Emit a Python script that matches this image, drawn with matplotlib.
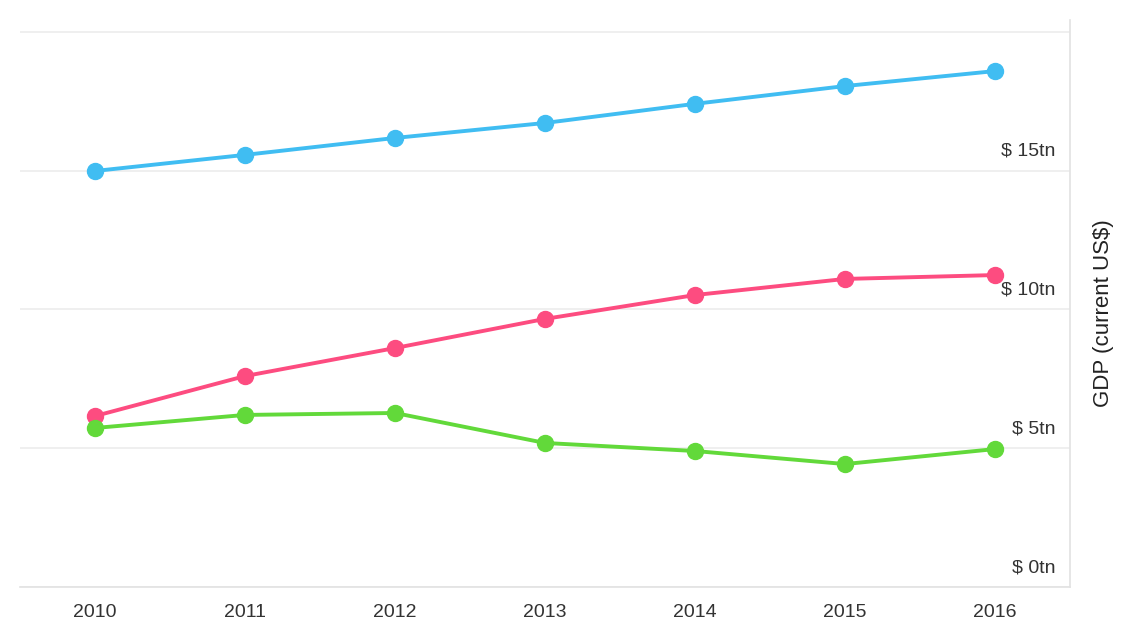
import matplotlib.pyplot as plt

plt.rcParams['font.family'] = ['Liberation Sans', 'DejaVu Sans']

years = [2010, 2011, 2012, 2013, 2014, 2015, 2016]
us_gdp = [14.99, 15.57, 16.18, 16.72, 17.41, 18.05, 18.59]
china_gdp = [6.16, 7.60, 8.61, 9.66, 10.52, 11.10, 11.24]
japan_gdp = [5.73, 6.20, 6.27, 5.19, 4.90, 4.43, 4.97]
y_ticks = [0, 5, 10, 15, 20]
y_labels = ["$ 0tn", "$ 5tn", "$ 10tn", "$ 15tn"]

series = [
    (us_gdp, "#40bdf2"),
    (china_gdp, "#fd4c80"),
    (japan_gdp, "#62d93a"),
]

fig = plt.figure(figsize=(11.36, 6.4), dpi=100)
ax = fig.add_axes([20 / 1136, 53 / 640, 1050 / 1136, 567 / 640])

for values, color in series:
    ax.plot(years, values, color=color, linewidth=2.8, marker="o",
            markersize=11.5, solid_capstyle="round", zorder=3)

ax.set_xlim(2009.5, 2016.5)
ax.set_ylim(0, 20.43)
ax.set_xticks(years)
ax.set_xticklabels([str(y) for y in years], fontsize=14, color="#333333")
ax.tick_params(axis="x", length=0, pad=12)
ax.set_yticks(y_ticks)
ax.set_yticklabels([])
ax.tick_params(axis="y", length=0)
ax.grid(axis="y", color="#ececec", linewidth=1.2)
ax.set_axisbelow(True)

for side in ["top", "left"]:
    ax.spines[side].set_visible(False)
ax.spines["right"].set_color("#e2e2e2")
ax.spines["bottom"].set_color("#e2e2e2")
ax.spines["right"].set_linewidth(1.2)
ax.spines["bottom"].set_linewidth(1.2)

for val, label in zip(y_ticks, y_labels):
    ax.annotate(label, xy=(1.0, val), xycoords=("axes fraction", "data"),
                xytext=(-15, 11), textcoords="offset pixels",
                ha="right", va="bottom", fontsize=14, color="#333333")

fig.text(1103 / 1136, 1 - 313 / 640, "GDP (current US$)", rotation=90,
         ha="center", va="center", fontsize=16, color="#222222")

fig.savefig("out.png", dpi=100)
